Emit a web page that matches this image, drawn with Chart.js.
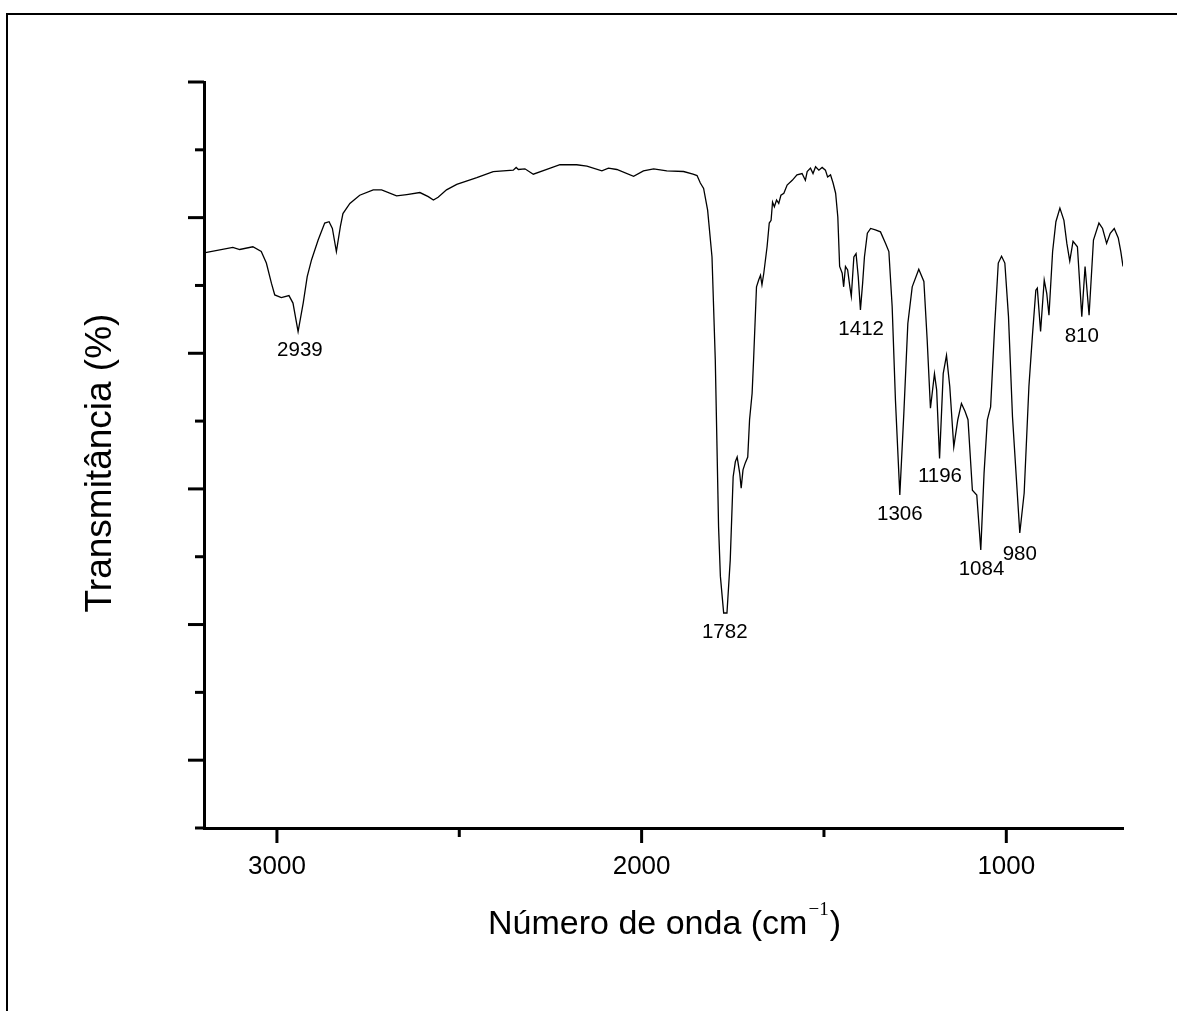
<!DOCTYPE html>
<html><head><meta charset="utf-8">
<script src="https://cdn.jsdelivr.net/npm/chart.js@4.4.1/dist/chart.umd.min.js"></script>
<style>html,body{margin:0;padding:0;background:#fff;} #wrap{width:1177px;height:1011px;position:relative;}</style>
</head><body><div id="wrap"><canvas id="c" width="1177" height="1011"></canvas></div>
<script>
const wavenumber = [3200,3121,3102,3066,3043,3029,3015,3006,2988,2967,
2956,2942,2928,2917,2905,2887,2869,2857,2848,2837,
2826,2819,2800,2773,2736,2713,2672,2644,2608,2585,
2571,2558,2535,2507,2452,2407,2352,2344,2338,2320,
2297,2260,2224,2178,2150,2109,2091,2068,2022,1995,
1967,1931,1885,1859,1848,1839,1830,1819,1807,1798,
1789,1784,1775,1766,1757,1749,1743,1738,1731,1727,
1722,1716,1709,1704,1697,1693,1685,1679,1674,1670,
1665,1656,1650,1645,1641,1636,1630,1624,1618,1610,
1601,1587,1574,1560,1551,1546,1537,1530,1523,1514,
1505,1496,1490,1482,1475,1468,1462,1457,1450,1446,
1441,1435,1429,1425,1418,1412,1406,1400,1394,1389,
1381,1372,1359,1345,1331,1322,1313,1304,1292,1281,
1270,1258,1240,1226,1217,1208,1197,1191,1183,1173,
1164,1155,1144,1133,1123,1113,1105,1093,1081,1070,
1061,1052,1043,1032,1022,1013,1004,994,983,963,
951,938,928,919,915,906,896,889,883,873,
864,853,842,834,826,817,805,793,784,773,
761,746,736,725,715,704,693,686,680];
const transmittance = [84.8,85.6,85.3,85.7,85.0,83.3,80.3,78.6,78.2,78.5,
77.4,73.2,77.4,81.3,83.8,86.7,89.2,89.4,88.4,85.0,
88.7,90.6,92.1,93.3,94.1,94.1,93.2,93.4,93.7,93.1,
92.6,93.0,94.1,94.9,95.9,96.8,97.0,97.4,97.1,97.2,
96.4,97.1,97.8,97.8,97.6,96.9,97.3,97.1,96.1,96.9,
97.2,96.9,96.8,96.4,96.2,95.1,94.3,91.1,84.2,69.0,
44.4,37.1,31.7,31.7,39.5,51.8,54.0,54.7,52.3,50.1,
52.8,53.8,54.7,60.2,64.1,69.0,79.8,80.8,81.5,80.1,
81.8,85.7,89.2,89.6,92.3,91.6,92.6,92.1,93.3,93.6,
94.8,95.5,96.3,96.5,95.5,96.8,97.3,96.5,97.5,97.0,
97.4,97.0,96.0,96.3,95.1,93.6,90.1,82.8,81.8,79.8,
82.8,82.3,79.8,78.4,84.2,84.7,81.3,76.4,80.3,84.2,
87.7,88.4,88.2,87.9,86.2,85.0,76.9,63.1,49.1,61.1,
74.4,79.8,82.4,80.6,72.0,61.9,67.0,64.6,54.5,67.0,
69.7,65.1,56.2,60.2,62.6,61.4,60.2,49.8,49.1,41.0,
52.3,60.2,62.1,73.9,83.3,84.3,83.3,75.4,60.6,43.5,
49.4,65.1,72.9,79.3,79.6,73.2,80.8,78.8,75.6,85.0,
89.4,91.4,89.6,86.2,83.6,86.5,85.7,75.4,82.8,75.6,
86.7,89.2,88.4,86.2,87.7,88.4,87.0,85.0,82.8];
const xTickValues = [3000, 2500, 2000, 1500, 1000];
const xTickLabels = ['3000', '', '2000', '', '1000'];
const yTickValues = [0, 10, 20, 30, 40, 50, 60, 70, 80, 90, 100, 110];
const peakLabels = ['2939', '1782', '1412', '1306', '1196', '1084', '980', '810'];
const peakLabelX = [2937, 1772, 1398, 1292, 1182, 1068, 963, 793];
const peakLabelY = [70.5, 28.8, 73.5, 46.3, 51.8, 38.1, 40.4, 72.5];
const xTitleMain = 'Número de onda (cm';
const xTitleSup = '\u22121';
const xTitleEnd = ')';
const yTitle = 'Transmitância (%)';

const FONT = '"Liberation Sans", Arial, sans-serif';
const points = wavenumber.map((w, i) => ({x: w, y: transmittance[i]}));

const decor = {
  id: 'decor',
  afterDraw(chart) {
    const ctx = chart.ctx, xs = chart.scales.x, ys = chart.scales.y, a = chart.chartArea;
    ctx.save();
    ctx.strokeStyle = '#000'; ctx.lineWidth = 3; ctx.lineCap = 'butt';
    const seg = (x1, y1, x2, y2) => { ctx.beginPath(); ctx.moveTo(x1, y1); ctx.lineTo(x2, y2); ctx.stroke(); };
    xTickValues.forEach((v, i) => {
      const px = xs.getPixelForValue(v);
      seg(px, a.bottom, px, a.bottom + (xTickLabels[i] ? 15 : 9));
    });
    yTickValues.forEach(v => {
      const py = ys.getPixelForValue(v);
      seg(a.left - ((v / 10) % 2 === 1 ? 16 : 9), py, a.left, py);
    });
    ctx.fillStyle = '#000';
    ctx.font = '20.5px ' + FONT; ctx.textAlign = 'center'; ctx.textBaseline = 'middle';
    peakLabels.forEach((t, i) => ctx.fillText(t, xs.getPixelForValue(peakLabelX[i]), ys.getPixelForValue(peakLabelY[i])));
    // y title
    ctx.save();
    ctx.translate(101, 463); ctx.rotate(-Math.PI / 2);
    ctx.font = '37px ' + FONT; ctx.textAlign = 'center'; ctx.textBaseline = 'middle';
    ctx.fillText(yTitle, 0, 0);
    ctx.restore();
    // x title with superscript
    const mainFont = '34px ' + FONT, supFont = '19px "Liberation Serif", "Times New Roman", serif';
    ctx.textAlign = 'left'; ctx.textBaseline = 'alphabetic';
    ctx.font = mainFont; const w1 = ctx.measureText(xTitleMain).width, w3 = ctx.measureText(xTitleEnd).width;
    ctx.font = supFont; const w2 = ctx.measureText(xTitleSup).width;
    let x0 = (a.left + a.right) / 2 - (w1 + w2 + w3) / 2;
    const base = 934;
    ctx.font = mainFont; ctx.fillText(xTitleMain, x0, base);
    ctx.font = supFont; ctx.fillText(xTitleSup, x0 + w1 + 1, base - 19);
    ctx.font = mainFont; ctx.fillText(xTitleEnd, x0 + w1 + w2 + 2, base);
    // outer frame
    ctx.lineWidth = 2;
    ctx.beginPath(); ctx.moveTo(7, 1011); ctx.lineTo(7, 14); ctx.lineTo(1177, 14); ctx.stroke();
    ctx.restore();
  }
};

new Chart(document.getElementById('c'), {
  type: 'line',
  data: { datasets: [{ data: points, borderColor: '#000', borderWidth: 1.3, pointRadius: 0, tension: 0, fill: false }] },
  options: {
    responsive: false, devicePixelRatio: 1, animation: false,
    layout: { padding: { top: 82, right: 54, bottom: 0, left: 0 } },
    plugins: { legend: { display: false }, tooltip: { enabled: false } },
    scales: {
      x: {
        type: 'linear', reverse: true, min: 680, max: 3200,
        afterBuildTicks: s => { s.ticks = xTickValues.map(v => ({ value: v })); },
        afterFit: s => { s.height = 183; },
        grid: { display: false, drawTicks: false },
        border: { display: true, width: 3, color: '#000' },
        ticks: { autoSkip: false, maxRotation: 0, padding: 23, color: '#000', font: { family: FONT, size: 26 },
          callback: (v, i) => xTickLabels[i] }
      },
      y: {
        min: 0, max: 110,
        afterBuildTicks: s => { s.ticks = yTickValues.map(v => ({ value: v })); },
        afterFit: s => { s.width = 204; },
        grid: { display: false, drawTicks: false },
        border: { display: true, width: 3, color: '#000' },
        ticks: { display: false },
        title: { display: false }
      }
    }
  },
  plugins: [decor]
});
</script></body></html>
